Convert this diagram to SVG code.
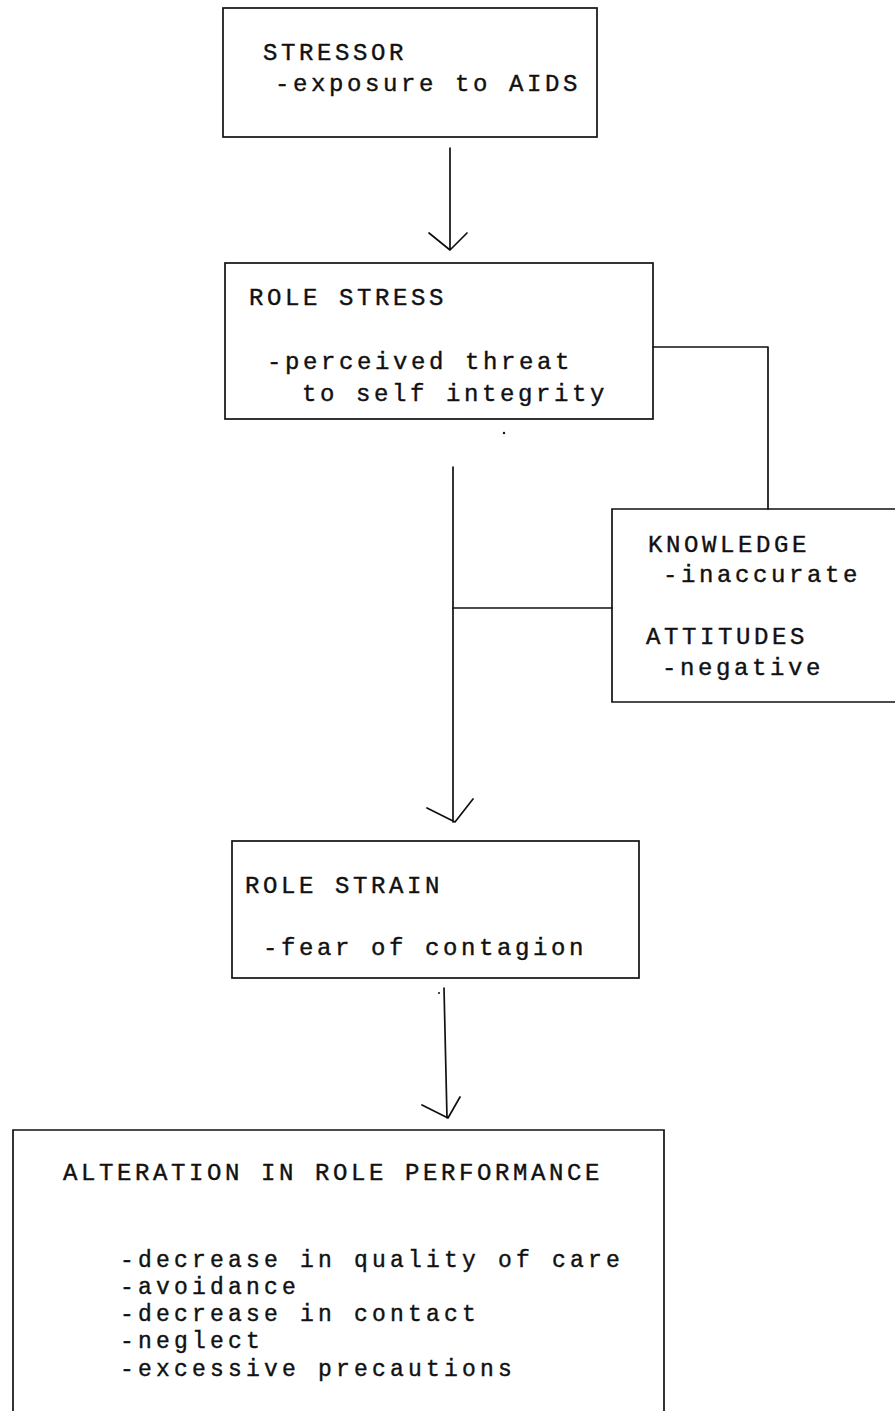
<svg xmlns="http://www.w3.org/2000/svg" width="895" height="1411" viewBox="0 0 895 1411">
<style>
.box{fill:none;stroke:#111;stroke-width:1.7}
.ln{fill:none;stroke:#111;stroke-width:1.7;stroke-linecap:round;stroke-linejoin:round}
text{font-family:"Liberation Mono","Courier New",monospace;font-size:24px;letter-spacing:3.6px;fill:#111;stroke:#111;stroke-width:0.4}
.li{font-size:23px;letter-spacing:4.2px}
</style>
<rect width="895" height="1411" fill="#fff"/>
<g id="connectors">
<path class="ln" d="M450,148 V250 M429,233 L450,250 L467,233"/>
<path class="ln" d="M653,347 H768 V509"/>
<path class="ln" d="M453,467 V822 M427,808 L455,822 L473,799"/>
<path class="ln" d="M453,608 H612"/>
<path class="ln" d="M444,988 L447,1118 M422,1105 L448,1118 L460,1097"/>
<circle cx="504" cy="433" r="1.2" fill="#111"/>
<circle cx="439" cy="993" r="1" fill="#111"/>
</g>
<g id="stressor">
<rect class="box" x="223" y="8" width="374" height="129"/>
<text x="263" y="60">STRESSOR</text>
<text x="275" y="91">-exposure to AIDS</text>
</g>
<g id="role-stress">
<rect class="box" x="225" y="263" width="428" height="156"/>
<text x="249" y="305">ROLE STRESS</text>
<text x="267" y="369">-perceived threat</text>
<text x="302" y="401">to self integrity</text>
</g>
<g id="knowledge">
<path class="box" d="M900,509 H612 V702 H900"/>
<text x="648" y="552">KNOWLEDGE</text>
<text x="663" y="582">-inaccurate</text>
<text x="646" y="644">ATTITUDES</text>
<text x="662" y="675">-negative</text>
</g>
<g id="role-strain">
<rect class="box" x="232" y="841" width="407" height="137"/>
<text x="245" y="893">ROLE STRAIN</text>
<text x="263" y="955">-fear of contagion</text>
</g>
<g id="alteration">
<path class="box" d="M13,1420 V1130 H664 V1420"/>
<text x="63" y="1180">ALTERATION IN ROLE PERFORMANCE</text>
<text class="li" x="120" y="1267">-decrease in quality of care</text>
<text class="li" x="120" y="1294">-avoidance</text>
<text class="li" x="120" y="1321">-decrease in contact</text>
<text class="li" x="120" y="1348">-neglect</text>
<text class="li" x="120" y="1376">-excessive precautions</text>
</g>
</svg>
